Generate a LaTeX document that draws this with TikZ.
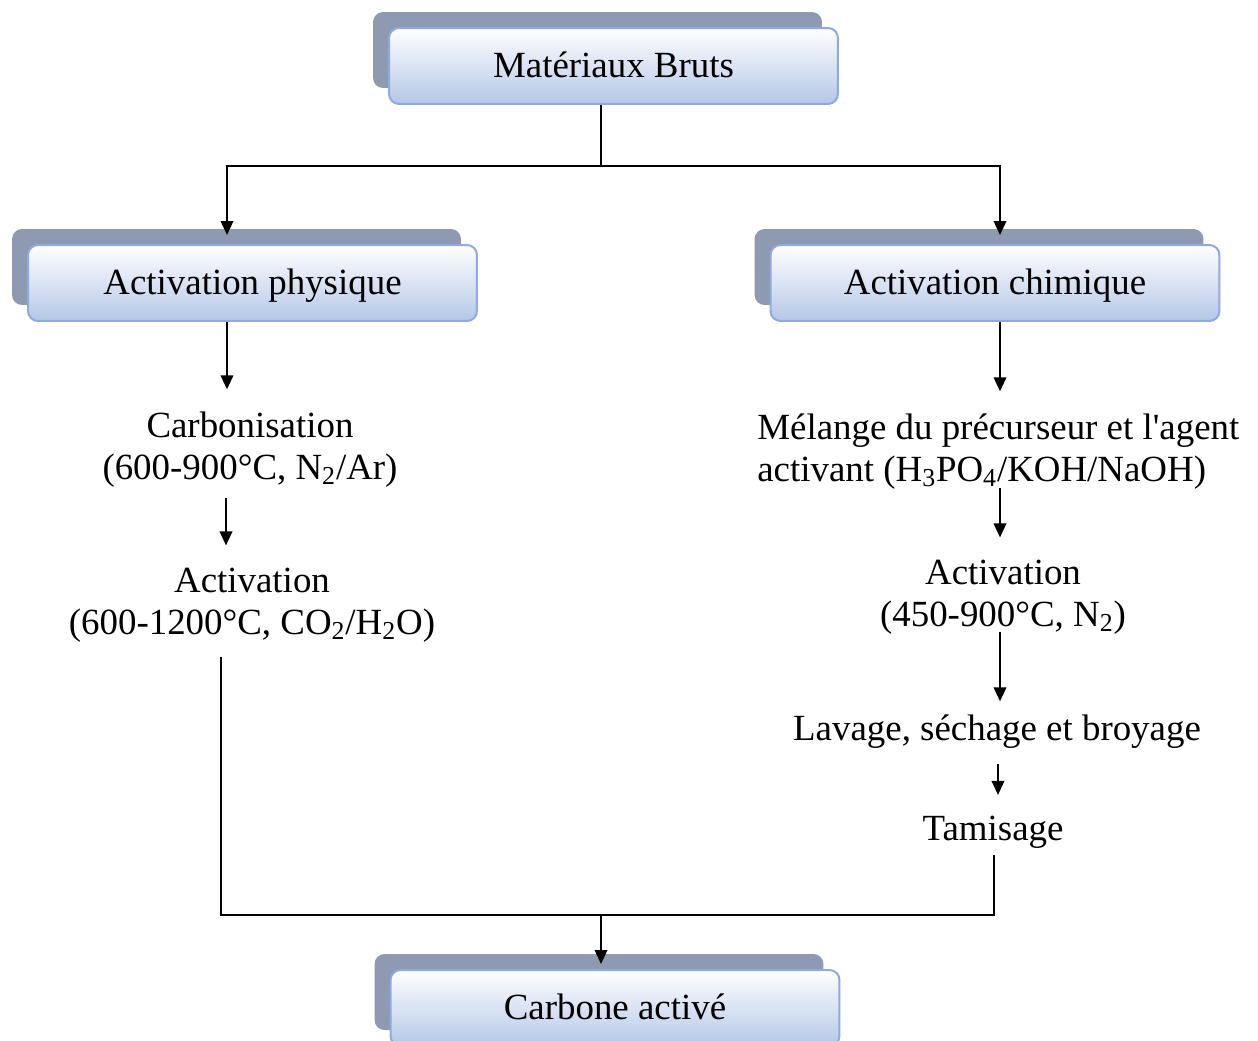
\documentclass[tikz,border=0pt]{standalone}
\usepackage{fontspec}
\setmainfont{Liberation Serif}
\usetikzlibrary{arrows.meta,shadows,calc}
\definecolor{shcol}{HTML}{8D9AB1}
\definecolor{bordcol}{HTML}{8FAADC}
\definecolor{botcol}{HTML}{B4C7E7}
\tikzset{
  box/.style={rounded corners=0.2cm, draw=bordcol, line width=0.04cm,
    top color=white, bottom color=botcol,
    minimum width=8.98cm, minimum height=1.52cm, inner sep=0pt,
    text height=17.2pt, text depth=4.6pt,
    font=\fontsize{21}{24}\selectfont,
    general shadow={fill=shcol, shadow xshift=-0.32cm, shadow yshift=0.32cm}},
  txt/.style={align=center, inner sep=0pt, font=\fontsize{21}{24}\selectfont},
  arr/.style={-{Triangle[length=0.28cm,width=0.25cm]}, line width=0.04cm},
  ln/.style={line width=0.04cm}
}
\begin{document}
\begin{tikzpicture}[x=0.02cm,y=-0.02cm]
\useasboundingbox (0,0) rectangle (1258,1041);
\clip (0,0) rectangle (1258,1041);

% boxes
\node[box] (mb)   at (613.5,66)  {Matériaux Bruts};
\node[box] (phys) at (252.5,283) {Activation physique};
\node[box] (chim) at (995,283)   {Activation chimique};
\node[box] (cb)   at (615,1008)  {Carbone activé};

% text steps
\node[txt] (carb) at (250,449.5) {Carbonisation\\(600-900°C, N\textsubscript{2}/Ar)};
\node[txt] (act1) at (252,605)   {Activation\\(600-1200°C, CO\textsubscript{2}/H\textsubscript{2}O)};
\node[txt, align=left, anchor=west] (mel) at (757,451.5) {Mélange du précurseur et l\textquotesingle agent\\activant (H\textsubscript{3}PO\textsubscript{4}/KOH/NaOH)};
\node[txt] (act2) at (1003,597)  {Activation\\(450-900°C, N\textsubscript{2})};
\node[txt] (lav)  at (997,731.5) {Lavage, séchage et broyage};
\node[txt] (tam)  at (993,832.5) {Tamisage};

% column coordinates
\coordinate (cTop) at (601,166);
\coordinate (xL)   at (227,0);
\coordinate (xL2)  at (221,0);
\coordinate (xR)   at (1000,0);
\coordinate (xT)   at (994,0);
\coordinate (jB)   at (601,915);

% top split
\draw[ln] (mb.south -| cTop) -- (cTop);
\draw[arr] (cTop) -| ($(phys.north -| xL)+(0,-9)$);
\draw[arr] (cTop) -| ($(chim.north -| xR)+(0,-9)$);

% left branch
\draw[arr] (phys.south -| xL) -- ($(carb.north -| xL)+(0,-22)$);
\draw[arr] ($(carb.south -| xL)+(-1,10)$) -- ($(act1.north -| xL)+(-1,-22)$);

% right branch
\draw[arr] (chim.south -| xR) -- ($(mel.north -| xR)+(0,-22)$);
\draw[arr] ($(mel.south -| xR)+(0,-2)$) -- ($(act2.north -| xR)+(0,-22)$);
\draw[arr] ($(act2.south -| xR)+(0,-3)$) -- ($(lav.north -| xR)+(0,-13)$);
\draw[arr] ($(lav.south -| xR)+(-2,15)$) -- ($(tam.north -| xR)+(-2,-21)$);

% merge
\draw[ln] ($(act1.south -| xL2)+(0,14)$) |- (jB) -| ($(tam.south -| xT)+(0,6)$);
\draw[arr] (jB) -- ($(cb.north -| jB)+(0,-5)$);
\end{tikzpicture}
\end{document}
